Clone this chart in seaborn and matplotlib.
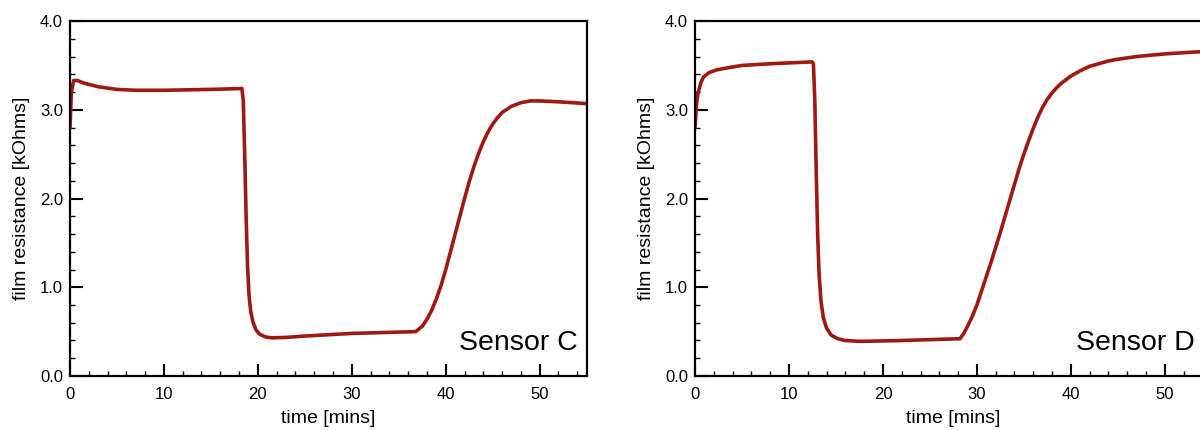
import matplotlib
matplotlib.use("Agg")
import matplotlib.pyplot as plt
import seaborn as sns
from matplotlib.ticker import MultipleLocator, FormatStrFormatter

# Sensor C readings (time in mins, resistance in kOhms)
time_c = [0, 0.15, 0.4, 0.8, 1.5, 3, 5, 7, 10, 15, 18.3, 18.45, 18.6, 18.75, 18.9,
          19.05, 19.25, 19.5, 19.8, 20.2, 20.8, 21.5, 23, 25, 30, 36.8, 37.5, 38,
          38.5, 39, 39.5, 40, 40.5, 41, 41.5, 42, 42.5, 43, 43.5, 44, 44.5, 45, 45.5,
          46, 47, 48, 49, 50, 52, 55]
res_c = [2.8, 3.2, 3.33, 3.33, 3.3, 3.26, 3.23, 3.22, 3.22, 3.23, 3.24, 3.1, 2.5, 1.8,
         1.25, 0.92, 0.72, 0.6, 0.52, 0.47, 0.44, 0.43, 0.435, 0.45, 0.48, 0.5, 0.56,
         0.64, 0.74, 0.87, 1.02, 1.2, 1.4, 1.6, 1.8, 2.0, 2.19, 2.36, 2.51, 2.64, 2.75,
         2.84, 2.91, 2.97, 3.04, 3.08, 3.1, 3.1, 3.09, 3.07]

# Sensor D readings
time_d = [0, 0.15, 0.3, 0.6, 0.9, 1.5, 2.3, 3.3, 5, 8.2, 12.45, 12.6, 12.75, 12.9,
          13.05, 13.2, 13.4, 13.65, 14, 14.5, 15.2, 16, 17.6, 22, 28.2, 28.6, 29,
          29.5, 30, 30.5, 31, 31.5, 32, 32.5, 33, 33.5, 34, 34.5, 35, 35.5, 36, 36.5,
          37, 37.5, 38, 38.5, 39, 40, 41, 42, 43, 44, 45, 47, 50, 53, 55]
res_d = [2.8, 3.05, 3.18, 3.3, 3.37, 3.42, 3.45, 3.47, 3.5, 3.52, 3.54, 3.52, 3.1,
         2.3, 1.6, 1.15, 0.85, 0.66, 0.54, 0.46, 0.42, 0.4, 0.39, 0.4, 0.42, 0.48,
         0.56, 0.67, 0.8, 0.96, 1.12, 1.28, 1.45, 1.62, 1.8, 1.98, 2.16, 2.34, 2.5,
         2.65, 2.79, 2.92, 3.03, 3.12, 3.19, 3.25, 3.3, 3.38, 3.44, 3.49, 3.52, 3.55,
         3.57, 3.6, 3.63, 3.65, 3.66]

sensors = ["Sensor C", "Sensor D"]

sns.set_style("ticks")
plt.rcParams['font.family'] = ['Liberation Sans', 'DejaVu Sans']
plt.rcParams['text.color'] = 'black'
plt.rcParams['axes.labelcolor'] = 'black'
plt.rcParams['axes.edgecolor'] = 'black'

line_color = "#9e1a10"
fig = plt.figure(figsize=(12, 4.3), dpi=100)
ax1 = fig.add_axes([0.0583, 0.1256, 0.4306, 0.8254])
ax2 = fig.add_axes([0.5792, 0.1256, 0.4306, 0.8254])

# right panel runs past the figure edge, so its label sits a little further in
for ax, t, r, name, tx in [(ax1, time_c, res_c, sensors[0], 0.982),
                           (ax2, time_d, res_d, sensors[1], 0.968)]:
    sns.lineplot(x=t, y=r, ax=ax, color=line_color, linewidth=2.6, sort=False)
    ax.set_xlim(0, 55)
    ax.set_ylim(0, 4)
    ax.xaxis.set_major_locator(MultipleLocator(10))
    ax.xaxis.set_minor_locator(MultipleLocator(2))
    ax.yaxis.set_major_locator(MultipleLocator(1))
    ax.yaxis.set_minor_locator(MultipleLocator(0.2))
    ax.yaxis.set_major_formatter(FormatStrFormatter('%.1f'))
    ax.tick_params(which='major', direction='in', length=9, width=1.5, labelsize=12,
                   colors='black')
    ax.tick_params(axis='x', which='major', pad=8)
    ax.tick_params(axis='y', which='major', pad=5)
    ax.tick_params(which='minor', direction='in', length=3.8, width=1, colors='black')
    for sp in ax.spines.values():
        sp.set_linewidth(1.6)
        sp.set_visible(True)
    ax.set_xlabel("time [mins]", fontsize=14, labelpad=6)
    ax.set_ylabel("film resistance [kOhms]", fontsize=14, labelpad=7)
    ax.text(tx, 0.055, name, transform=ax.transAxes, ha='right', va='bottom', fontsize=20.5)

fig.savefig("out.png", dpi=100)
